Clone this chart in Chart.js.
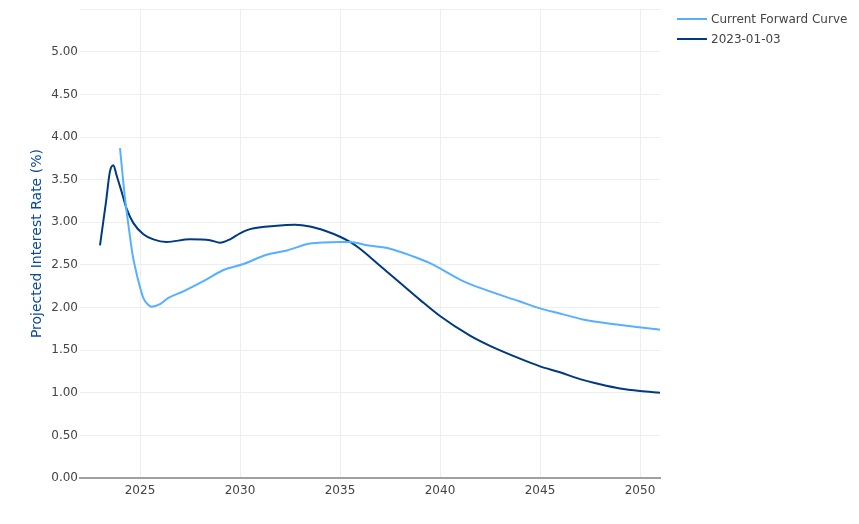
<!DOCTYPE html>
<html lang="en">
  <head>
    <meta charset="UTF-8" />
    <title>Projected Interest Rate</title>
    <script src="https://cdn.jsdelivr.net/npm/chart.js@4.4.0/dist/chart.umd.min.js"></script>
    <style>
      html, body { margin: 0; padding: 0; background: #fff; }
      #wrap { position: relative; width: 859px; height: 524px; }
      #legend { position: absolute; left: 677px; top: 9px; font: 12px "DejaVu Sans", Verdana, sans-serif; color: #444; }
      .item { height: 20px; line-height: 20px; white-space: nowrap; }
      .swatch { display: inline-block; width: 30px; height: 2px; vertical-align: middle; margin-right: 4px; position: relative; top: -1px; }
    </style>
  </head>
  <body>
    <div id="wrap">
      <canvas id="rate-graph" width="859" height="524"></canvas>
      <div id="legend"></div>
    </div>

  <script>
    // Current Forward Curve (year, %)
    const currentYears = [2024.0, 2024.25, 2024.42, 2024.63, 2024.92, 2025.17, 2025.42, 2025.58, 2026.0, 2026.4,
      2027.17, 2028.33, 2029.17, 2030.17, 2031.33, 2032.35, 2033.5, 2035.0, 2035.5, 2036.35,
      2037.5, 2038.65, 2039.5, 2041.15, 2042.0, 2044.0, 2045.0, 2046.0, 2047.15, 2048.85, 2051.0];
    const currentRates = [3.87, 3.28, 2.97, 2.62, 2.31, 2.11, 2.03, 2.01, 2.04, 2.11,
      2.19, 2.33, 2.44, 2.51, 2.62, 2.67, 2.75, 2.77, 2.77, 2.73,
      2.69, 2.60, 2.52, 2.31, 2.23, 2.07, 1.99, 1.93, 1.86, 1.80, 1.74];

    // 2023-01-03 curve
    const pastYears = [2023.0, 2023.3, 2023.5, 2023.67, 2023.83, 2024.08, 2024.33, 2024.67, 2025.17, 2025.67,
      2026.33, 2027.5, 2028.5, 2029.0, 2029.5, 2030.0, 2030.5, 2031.85, 2032.75, 2033.5,
      2034.25, 2035.0, 2035.5, 2036.0, 2037.0, 2038.0, 2039.0, 2040.0, 2041.5, 2042.5,
      2044.0, 2045.0, 2046.0, 2047.0, 2048.0, 2049.0, 2050.0, 2051.0];
    const pastRates = [2.73, 3.24, 3.60, 3.67, 3.55, 3.36, 3.16, 2.99, 2.86, 2.80,
      2.77, 2.80, 2.79, 2.76, 2.80, 2.87, 2.92, 2.96, 2.97, 2.95,
      2.90, 2.83, 2.77, 2.69, 2.49, 2.29, 2.09, 1.90, 1.67, 1.55,
      1.40, 1.31, 1.24, 1.16, 1.10, 1.05, 1.02, 1.00];

    const xTicks = [2025, 2030, 2035, 2040, 2045, 2050];
    const yTicks = [0, 0.5, 1, 1.5, 2, 2.5, 3, 3.5, 4, 4.5, 5, 5.5];

    const seriesNames = ['Current Forward Curve', '2023-01-03'];
    const seriesColors = ['#56b0ff', '#003a80'];

    function toPoints(xs, ys) {
      return xs.map(function (x, i) { return { x: x, y: ys[i] }; });
    }

    const font = { family: '"DejaVu Sans", Verdana, sans-serif', size: 12 };

    const ctx = document.getElementById('rate-graph').getContext('2d');
    var rateGraph = new Chart(ctx, {
      type: 'line',
      data: {
        datasets: [{
          label: seriesNames[0],
          data: toPoints(currentYears, currentRates),
          borderColor: seriesColors[0],
          borderWidth: 2,
          pointRadius: 0,
          cubicInterpolationMode: 'monotone'
        }, {
          label: seriesNames[1],
          data: toPoints(pastYears, pastRates),
          borderColor: seriesColors[1],
          borderWidth: 2,
          pointRadius: 0,
          cubicInterpolationMode: 'monotone'
        }]
      },
      options: {
        responsive: false,
        animation: false,
        layout: { padding: { top: 6, right: 199, left: 0, bottom: 0 } },
        plugins: { legend: { display: false }, tooltip: { enabled: false } },
        scales: {
          x: {
            type: 'linear',
            min: 2022,
            max: 2051,
            afterBuildTicks: function (axis) { axis.ticks = xTicks.map(function (v) { return { value: v }; }); },
            afterFit: function (axis) { axis.height = 46; },
            ticks: { font: font, color: '#444', padding: 6, maxRotation: 0, callback: function (v) { return String(v); } },
            grid: { color: '#eeeeee', lineWidth: 1, drawTicks: false },
            border: { display: true, color: '#a0a0a0', width: 2 }
          },
          y: {
            min: 0,
            max: 5.5,
            afterBuildTicks: function (axis) { axis.ticks = yTicks.map(function (v) { return { value: v }; }); },
            afterFit: function (axis) { axis.width = 80; },
            ticks: {
              font: font, color: '#444', padding: 2,
              callback: function (v) { return v > 5 ? '' : v.toFixed(2); }
            },
            grid: { color: '#eeeeee', lineWidth: 1, drawTicks: false },
            border: { display: false },
            title: {
              display: true,
              text: 'Projected Interest Rate (%)',
              color: '#0a4a9a',
              font: { family: font.family, size: 14 },
              padding: { top: 29, bottom: 4 }
            }
          }
        }
      }
    });

    var legend = document.getElementById('legend');
    seriesNames.forEach(function (name, i) {
      var row = document.createElement('div');
      row.className = 'item';
      row.innerHTML = '<span class="swatch" style="background:' + seriesColors[i] + '"></span>' + name;
      legend.appendChild(row);
    });
  </script>
  </body>
</html>
